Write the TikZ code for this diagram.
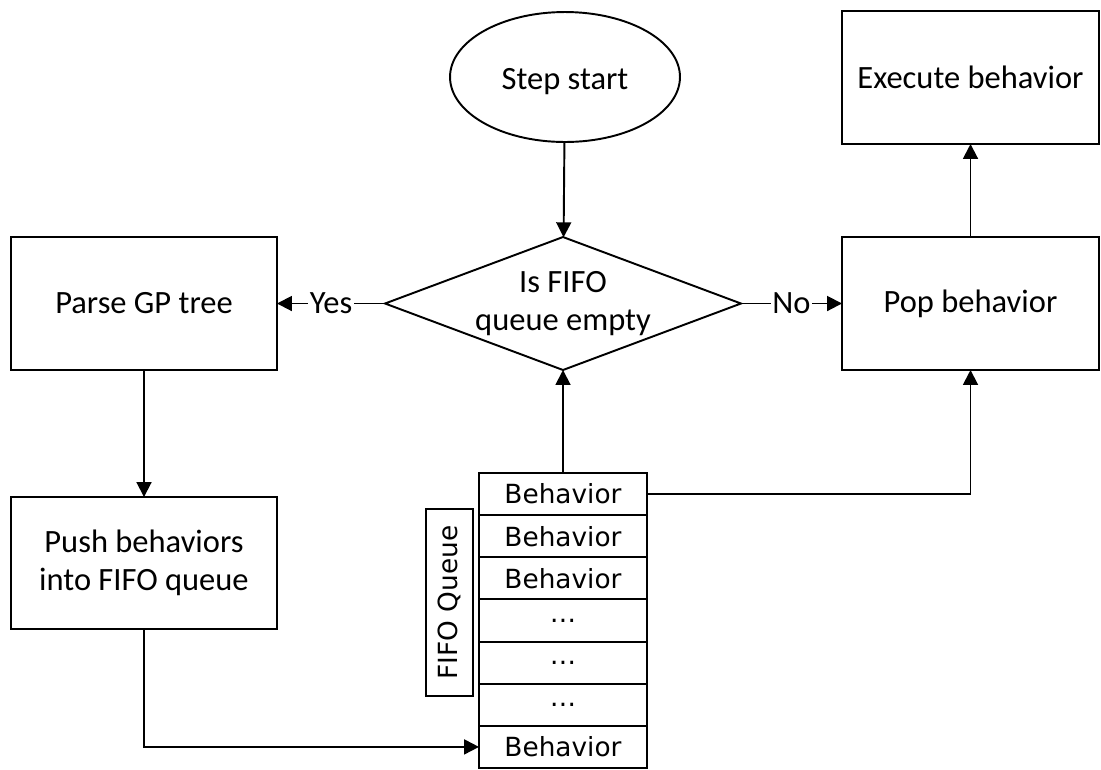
\documentclass[tikz,border=0pt]{standalone}
\usepackage{fontspec}
\setmainfont{Carlito}
\newfontfamily\queuefont{DejaVu Sans}
\usetikzlibrary{arrows.meta,shapes.geometric}

\begin{document}
\begin{tikzpicture}[>={Triangle[length=8.5pt,width=8.5pt]}, x=.02cm, y=-.02cm, line width=1.1pt,
	box/.style={draw, inner sep=0pt, outer sep=0pt, align=center, font=\fontsize{18.5}{21.5}\selectfont},
	cell/.style={draw, inner sep=0pt, outer sep=0pt, minimum width=3.36cm, minimum height=.843cm, font=\queuefont\fontsize{15}{17}\selectfont},
	lab/.style={fill=white, inner sep=1pt, font=\fontsize{18.5}{21.5}\selectfont}]
	\useasboundingbox (0,0) rectangle (1101,769);
	\node[box, ellipse, minimum width=4.6cm, minimum height=2.6cm] (start) at (565,77) {\raisebox{-7pt}[0pt][0pt]{Step start}};
	\node[box, diamond, aspect=2.68, minimum width=7.12cm, minimum height=2.66cm] (empty) at (563,303.5) {Is FIFO\\queue empty};
	\node[box, minimum width=5.32cm, minimum height=2.66cm] (parse) at (144,303.5) {Parse GP tree};
	\node[box, minimum width=5.32cm, minimum height=2.64cm] (push) at (144,563) {Push behaviors\\into FIFO queue};
	\node[box, minimum width=5.14cm, minimum height=2.66cm] (pop) at (970.5,303.5) {Pop behavior};
	\node[box, minimum width=5.14cm, minimum height=2.66cm] (exec) at (970.5,77.5) {Execute behavior};
	% queue cells
	\foreach \p/\t in {1/Behavior,2/Behavior,3/Behavior,4/\ldots,5/\ldots,6/\ldots,7/Behavior}
		\node[cell] (q\p) at (563,{473+42.14*(\p-.5)}) {\t};
	\node[draw, rotate=90, inner sep=0pt, minimum width=3.74cm, minimum height=.94cm, font=\queuefont\fontsize{15}{17}\selectfont] (qlab) at (449.5,602.5) {FIFO Queue};
	% connectors
	\draw[->] (start) -- (empty);
	\draw[->] (empty.west) -- node[lab]{Yes} (parse.east);
	\draw[->] (empty.east) -- node[lab]{No} (pop.west);
	\draw[->] (pop) -- (exec);
	\draw[->] (parse) -- (push);
	\draw[->] (push.south) |- (q7.west);
	\draw[->] (q1.north) -- (empty.south);
	\draw[->] (q1.east) -| (pop.south);
\end{tikzpicture}
\end{document}
